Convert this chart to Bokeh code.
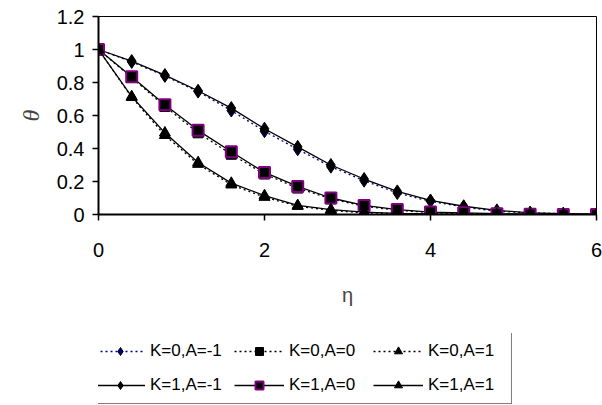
from bokeh.plotting import figure
from bokeh.models import Legend, LegendItem, FixedTicker, CustomJSTickFormatter
from bokeh.layouts import column
from bokeh.embed import file_html
from bokeh.resources import INLINE

eta = [0.0, 0.4, 0.8, 1.2, 1.6, 2.0, 2.4, 2.8, 3.2, 3.6, 4.0, 4.4, 4.8, 5.2, 5.6, 6.0]

k0_am1 = [1.0, 0.925, 0.84, 0.745, 0.63, 0.505, 0.395, 0.29, 0.205, 0.13, 0.08, 0.045, 0.02, 0.01, 0.005, 0.0]
k0_a0 = [1.0, 0.83, 0.655, 0.495, 0.365, 0.245, 0.16, 0.095, 0.05, 0.025, 0.012, 0.005, 0.002, 0.0, 0.0, 0.0]
k0_a1 = [1.0, 0.71, 0.48, 0.305, 0.18, 0.105, 0.05, 0.025, 0.01, 0.005, 0.002, 0.0, 0.0, 0.0, 0.0, 0.0]
k1_am1 = [1.0, 0.93, 0.845, 0.75, 0.645, 0.52, 0.41, 0.30, 0.215, 0.14, 0.085, 0.05, 0.025, 0.01, 0.005, 0.0]
k1_a0 = [1.0, 0.835, 0.665, 0.51, 0.38, 0.255, 0.17, 0.10, 0.055, 0.03, 0.015, 0.01, 0.005, 0.002, 0.0, 0.0]
k1_a1 = [1.0, 0.715, 0.495, 0.315, 0.19, 0.115, 0.055, 0.03, 0.015, 0.007, 0.003, 0.0, 0.0, 0.0, 0.0, 0.0]

x_ticks = [0, 2, 4, 6]
y_ticks = [0, 0.2, 0.4, 0.6, 0.8, 1, 1.2]
labels = ["K=0,A=-1", "K=0,A=0", "K=0,A=1", "K=1,A=-1", "K=1,A=0", "K=1,A=1"]

FONT = "Liberation Sans"

p = figure(width=602, height=333, output_backend="svg", toolbar_location=None,
           x_range=(0, 6), y_range=(0, 1.2),
           min_border_left=98, min_border_right=6, min_border_top=16, min_border_bottom=119)
p.background_fill_color = "white"
p.border_fill_color = "white"
p.outline_line_color = "black"
p.outline_line_width = 1
p.xgrid.visible = False
p.ygrid.visible = False

fmt = CustomJSTickFormatter(code="return String(Number(tick.toFixed(1)));")
for ax, ticks in ((p.xaxis, x_ticks), (p.yaxis, y_ticks)):
    ax.ticker = FixedTicker(ticks=ticks)
    ax.formatter = fmt
    ax.axis_line_color = "black"
    ax.axis_line_width = 2
    ax.major_tick_line_color = "black"
    ax.major_tick_line_width = 1.5
    ax.major_tick_out = 6
    ax.major_tick_in = 0
    ax.minor_tick_line_color = None
    ax.major_label_text_font = FONT
    ax.major_label_text_font_size = "20px"
    ax.major_label_text_color = "black"

p.xaxis.axis_label = "η"
p.xaxis.axis_label_text_font = FONT
p.xaxis.axis_label_text_font_style = "normal"
p.xaxis.axis_label_text_font_size = "20px"
p.xaxis.major_label_standoff = 22
p.xaxis.axis_label_standoff = 24

p.yaxis.axis_label = "θ"
p.yaxis.axis_label_text_font = "Liberation Serif"
p.yaxis.axis_label_text_font_style = "italic"
p.yaxis.axis_label_text_font_size = "24px"
p.yaxis.major_label_standoff = 8
p.yaxis.axis_label_standoff = 10

series = [
    (k0_am1, "navy", "2 3", "diamond", "navy", "black", 1, 13),
    (k0_a0, "black", "2 3", "square", "black", "black", 1, 10),
    (k0_a1, "black", "2 3", "triangle", "black", "black", 1, 11),
    (k1_am1, "black", "solid", "diamond", "black", "black", 1, 13),
    (k1_a0, "black", "solid", "square", "black", "#800080", 2, 11),
    (k1_a1, "black", "solid", "triangle", "black", "black", 1, 11),
]

# legend strip below the chart
p2 = figure(width=602, height=72, output_backend="svg", toolbar_location=None,
            x_range=(0, 6), y_range=(0, 1.2), x_axis_type=None, y_axis_type=None,
            min_border=0)
p2.outline_line_color = None
p2.xgrid.visible = False
p2.ygrid.visible = False
p2.background_fill_color = "white"
p2.border_fill_color = "white"

legend_items = {}
for (vals, lc, dash, marker, fc, mc, mw, ms), lab in zip(series, labels):
    p.line(eta, vals, line_color=lc, line_width=1.3, line_dash=dash)
    p.scatter(eta, vals, marker=marker, size=ms, fill_color=fc,
              line_color=mc, line_width=mw)
    q1 = p2.line(eta, vals, line_color=lc, line_width=1.3, line_dash=dash, visible=False)
    q2 = p2.scatter(eta, vals, marker=marker, size=ms - 2, fill_color=fc,
                    line_color=mc, line_width=mw, visible=False)
    legend_items[lab] = LegendItem(label=lab, renderers=[q1, q2])

# column-major fill with 3 columns -> reading order row by row
order = ["K=0,A=-1", "K=1,A=-1", "K=0,A=0", "K=1,A=0", "K=0,A=1", "K=1,A=1"]
legend = Legend(items=[legend_items[k] for k in order], ncols=3, location=(-7, 1))
legend.click_policy = "none"
legend.label_text_font = FONT
legend.label_text_font_size = "17px"
legend.label_text_color = "black"
legend.glyph_width = 50
legend.glyph_height = 20
legend.label_height = 30
legend.label_width = 80
legend.label_standoff = 5
legend.spacing = 4
legend.padding = 3
legend.margin = 0
legend.border_line_color = "black"
legend.border_line_width = 1
legend.background_fill_color = "white"
legend.background_fill_alpha = 1
p2.add_layout(legend, "center")

layout = column(p, p2, spacing=0)
open("out.html", "w").write(file_html(layout, INLINE))
